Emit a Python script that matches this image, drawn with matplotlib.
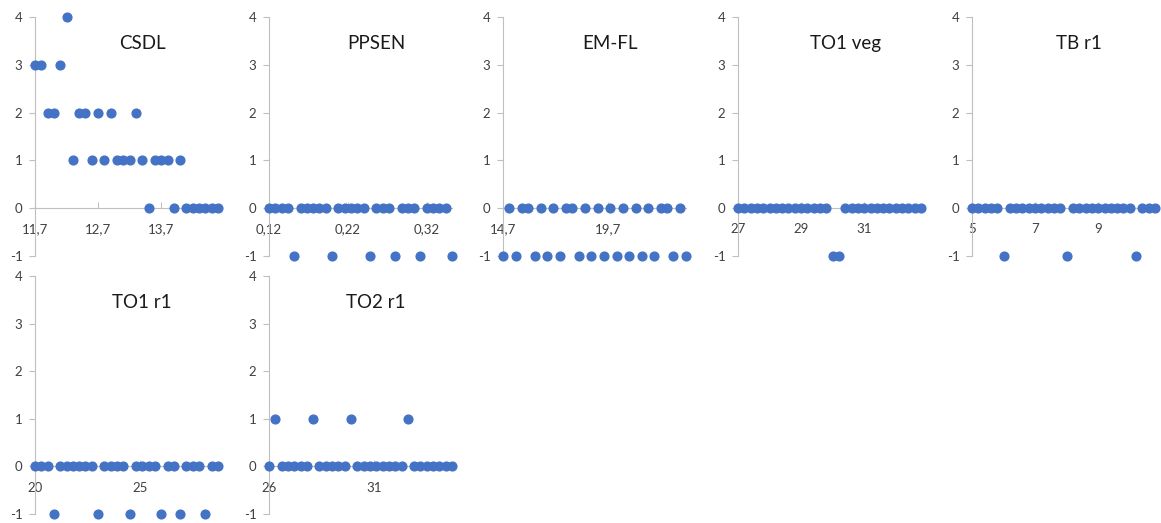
import matplotlib
matplotlib.use('Agg')
import matplotlib.pyplot as plt

plt.rcParams['font.family'] = ['Lato', 'DejaVu Sans']
plt.rcParams['axes.unicode_minus'] = False

# panel titles
names = ['CSDL', 'PPSEN', 'EM-FL', 'TO1 veg', 'TB r1', 'TO1 r1', 'TO2 r1']

csdl_x = [11.7, 11.8, 11.9, 12.0, 12.1, 12.2, 12.3, 12.4, 12.5, 12.6,
          12.7, 12.8, 12.9, 13.0, 13.1, 13.2, 13.3, 13.4, 13.5, 13.6,
          13.7, 13.8, 13.9, 14.0, 14.1, 14.2, 14.3, 14.4, 14.5, 14.6]
csdl_y = [3, 3, 2, 2, 3, 4, 1, 2, 2, 1, 2, 1, 2, 1, 1, 1, 2, 1, 0, 1,
          1, 1, 0, 1, 0, 0, 0, 0, 0, 0]

ppsen_x = [0.120, 0.128, 0.136, 0.144, 0.152, 0.160, 0.168, 0.176, 0.184, 0.192,
           0.200, 0.208, 0.216, 0.224, 0.232, 0.240, 0.248, 0.256, 0.264, 0.272,
           0.280, 0.288, 0.296, 0.304, 0.312, 0.320, 0.328, 0.336, 0.344, 0.352]
ppsen_y = [0, 0, 0, 0, -1, 0, 0, 0, 0, 0, -1, 0, 0, 0, 0, 0, -1, 0, 0, 0,
           -1, 0, 0, 0, -1, 0, 0, 0, 0, -1]

emfl_x = [14.7, 15.0, 15.3, 15.6, 15.9, 16.2, 16.5, 16.8, 17.1, 17.4,
          17.7, 18.0, 18.3, 18.6, 18.9, 19.2, 19.5, 19.8, 20.1, 20.4,
          20.7, 21.0, 21.3, 21.6, 21.9, 22.2, 22.5, 22.8, 23.1, 23.4]
emfl_y = [-1, 0, -1, 0, 0, -1, 0, -1, 0, -1, 0, 0, -1, 0, -1, 0, -1, 0, -1, 0,
          -1, 0, -1, 0, -1, 0, 0, -1, 0, -1]

to1veg_x = [27.0, 27.2, 27.4, 27.6, 27.8, 28.0, 28.2, 28.4, 28.6, 28.8,
            29.0, 29.2, 29.4, 29.6, 29.8, 30.0, 30.2, 30.4, 30.6, 30.8,
            31.0, 31.2, 31.4, 31.6, 31.8, 32.0, 32.2, 32.4, 32.6, 32.8]
to1veg_y = [0, 0, 0, 0, 0, 0, 0, 0, 0, 0, 0, 0, 0, 0, 0, -1, -1, 0, 0, 0,
            0, 0, 0, 0, 0, 0, 0, 0, 0, 0]

tbr1_x = [5.0, 5.2, 5.4, 5.6, 5.8, 6.0, 6.2, 6.4, 6.6, 6.8,
          7.0, 7.2, 7.4, 7.6, 7.8, 8.0, 8.2, 8.4, 8.6, 8.8,
          9.0, 9.2, 9.4, 9.6, 9.8, 10.0, 10.2, 10.4, 10.6, 10.8]
tbr1_y = [0, 0, 0, 0, 0, -1, 0, 0, 0, 0, 0, 0, 0, 0, 0, -1, 0, 0, 0, 0,
          0, 0, 0, 0, 0, 0, -1, 0, 0, 0]

to1r1_x = [20.0, 20.3, 20.6, 20.9, 21.2, 21.5, 21.8, 22.1, 22.4, 22.7,
           23.0, 23.3, 23.6, 23.9, 24.2, 24.5, 24.8, 25.1, 25.4, 25.7,
           26.0, 26.3, 26.6, 26.9, 27.2, 27.5, 27.8, 28.1, 28.4, 28.7]
to1r1_y = [0, 0, 0, -1, 0, 0, 0, 0, 0, 0, -1, 0, 0, 0, 0, -1, 0, 0, 0, 0,
           -1, 0, 0, -1, 0, 0, 0, -1, 0, 0]

to2r1_x = [26.0, 26.3, 26.6, 26.9, 27.2, 27.5, 27.8, 28.1, 28.4, 28.7,
           29.0, 29.3, 29.6, 29.9, 30.2, 30.5, 30.8, 31.1, 31.4, 31.7,
           32.0, 32.3, 32.6, 32.9, 33.2, 33.5, 33.8, 34.1, 34.4, 34.7]
to2r1_y = [0, 1, 0, 0, 0, 0, 0, 1, 0, 0, 0, 0, 0, 1, 0, 0, 0, 0, 0, 0,
           0, 0, 1, 0, 0, 0, 0, 0, 0, 0]

# x tick values shown on each panel
x_ticks = [[11.7, 12.7, 13.7], [0.12, 0.22, 0.32], [14.7, 19.7], [27, 29, 31],
           [5, 7, 9], [20, 25], [26, 31]]
y_ticks = [-1, 0, 1, 2, 3, 4]

series = [(csdl_x, csdl_y), (ppsen_x, ppsen_y), (emfl_x, emfl_y),
          (to1veg_x, to1veg_y), (tbr1_x, tbr1_y), (to1r1_x, to1r1_y),
          (to2r1_x, to2r1_y)]

W, H = 1161, 523
fig = plt.figure(figsize=(W / 100, H / 100), dpi=100)

lefts = [35, 269, 503, 738, 972]
rows = [(17, 256), (276, 514)]  # pixel top / bottom of plot area
pw = 183

grey = '#BFBFBF'
txt = '#404040'

for i, (name, (x, y)) in enumerate(zip(names, series)):
    top, bot = rows[i // 5]
    left = lefts[i % 5]
    ax = fig.add_axes([left / W, 1 - bot / H, pw / W, (bot - top) / H])

    ax.plot(x, y, 'o', color='#4472C4', markersize=6.3, clip_on=False, zorder=3)
    ax.set_xlim(min(x), max(x))
    ax.set_ylim(-1, 4)

    for s in ['top', 'right']:
        ax.spines[s].set_visible(False)
    ax.spines['bottom'].set_position(('data', 0))
    ax.spines['bottom'].set_color(grey)
    ax.spines['left'].set_color(grey)
    ax.spines['bottom'].set_linewidth(0.8)
    ax.spines['left'].set_linewidth(0.8)

    ax.set_yticks(y_ticks)
    ax.set_xticks(x_ticks[i])
    ax.set_xticklabels([('%g' % t).replace('.', ',') for t in x_ticks[i]])
    ax.tick_params(axis='y', direction='out', length=4, width=0.8, color=grey,
                   labelcolor=txt, labelsize=9.5, pad=5)
    ax.tick_params(axis='x', direction='in', length=4, width=0.8, color=grey,
                   labelcolor=txt, labelsize=9.5, pad=11)
    ax.patch.set_visible(False)

    ax.text(0.585, 0.89, name, transform=ax.transAxes, ha='center', va='center',
            fontsize=13.5, color='#1a1a1a')

fig.savefig('out.png', dpi=100)
